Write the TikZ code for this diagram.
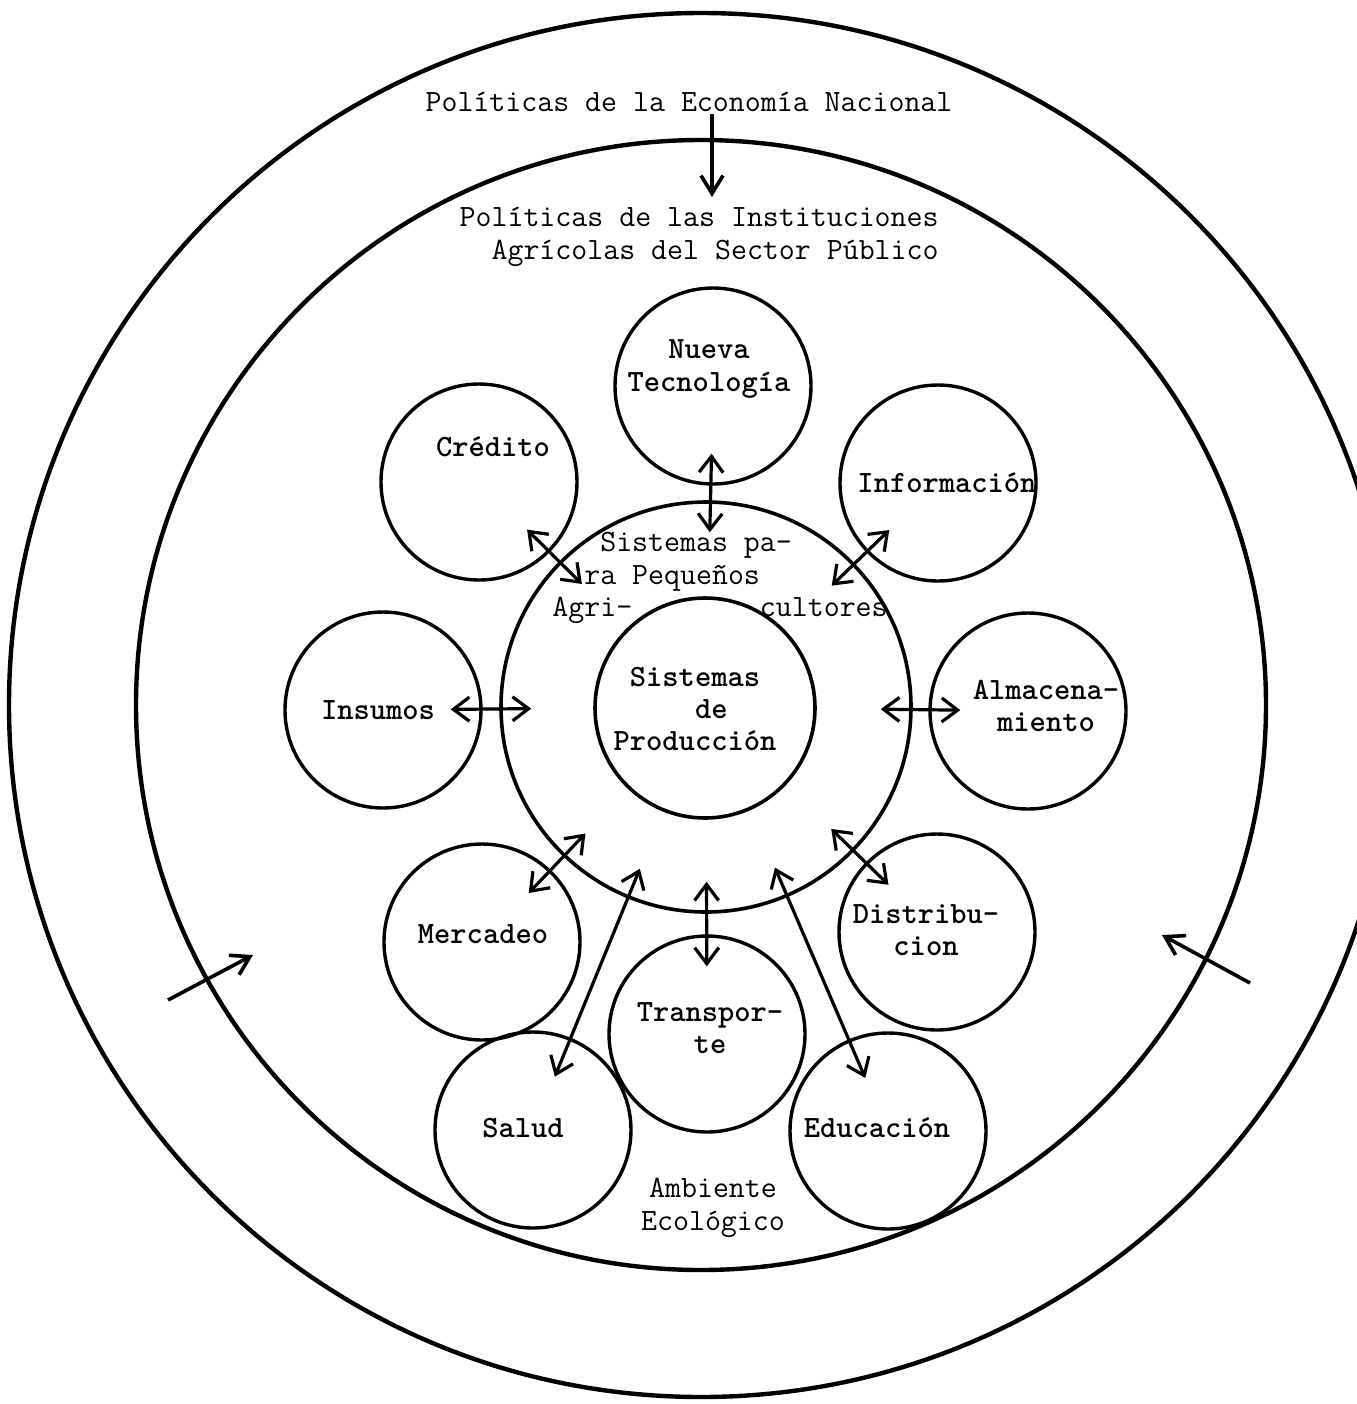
\documentclass[tikz,border=0pt]{standalone}
\usetikzlibrary{arrows.meta}

\tikzset{
  ring/.style={draw, circle, line width=2.2pt, inner sep=0pt},
  core/.style={draw, circle, line width=1.8pt, inner sep=0pt},
  orb/.style={draw, circle, line width=1.7pt, minimum size=98pt, inner sep=0pt},
  say/.style={font=\fontsize{15.5}{16.4}\selectfont\ttfamily, inner sep=1pt},
  tag/.style={font=\fontsize{15.5}{16.2}\selectfont\ttfamily\bfseries, align=center, inner sep=0pt},
  link/.style={line width=1.6pt, {Straight Barb[length=8pt,width=12pt]}-{Straight Barb[length=8pt,width=12pt]},
    shorten <=-16pt, shorten >=-16pt},
  push/.style={line width=1.8pt, -{Straight Barb[length=9pt,width=11pt]}},
}

\begin{document}
\begin{tikzpicture}[x=0.5pt,y=-0.5pt]
\useasboundingbox (0,0) rectangle (1356,1404);

% ---------------- rings ----------------
\node[ring, minimum size=692pt] (eco) at (701,705) {};
\node[ring, minimum size=565pt] (inst) at (701,705) {};
\node[core, minimum size=205pt] (peq) at (706,707) {};
\node[core, minimum size=110pt] (prod) at (705,708) {};

% ring texts
\node[say] (econT) at (689,102) {Políticas de la Economía Nacional};
\node[say, align=right, anchor=east] (instT) at (941,237)
  {Políticas de las Instituciones\\Agrícolas del Sector Público};
\node[say, align=left, anchor=west] (peqT) at (550,578)
  {\phantom{xxx}Sistemas pa-\\\phantom{xx}ra Pequeños\\Agri-~~~~~~~~cultores};
\node[tag] (prodT) at (695,709) {Sistemas\\\phantom{xx}de\\Producción};
\node[say, align=center] (ambT) at (713,1208) {Ambiente\\Ecológico};

% ---------------- satellites ----------------
\node[orb] (nueva) at (713,386) {};
\node[orb] (cred) at (479,482) {};
\node[orb] (info) at (938,483) {};
\node[orb] (ins) at (383,710) {};
\node[orb] (alm) at (1028,711) {};
\node[orb] (mer) at (482,942) {};
\node[orb] (dis) at (937,932) {};
\node[orb] (tra) at (707,1034) {};
\node[orb] (sal) at (533,1130) {};
\node[orb] (edu) at (888,1131) {};

\node[tag] (nuevaT) at (709,369) {Nueva\\Tecnología};
\node[tag] (credT) at (493,447) {Crédito};
\node[tag] (infoT) at (947,483) {Información};
\node[tag] (insT) at (378,710) {Insumos};
\node[tag] (almT) at (1046,706) {Almacena-\\miento};
\node[tag] (merT) at (483,934) {Mercadeo};
\node[tag] (disT) at (926,930) {Distribu-\\cion};
\node[tag] (traT) at (710,1028) {Transpor-\\te};
\node[tag] (salT) at (523,1128) {Salud};
\node[tag] (eduT) at (877,1128) {Educación};

% ---------------- arrows ----------------
\coordinate (topTip) at (712,197);
\draw[push] (econT.south -| topTip) -- (topTip);

\draw[link] (nueva) -- (peq);
\draw[link] (cred) -- (peq);
\draw[link] (info) -- (peq);
\draw[link] (ins) -- (peq);
\draw[link] (alm) -- (peq);
\draw[link] (mer) -- (peq);
\draw[link] (dis) -- (peq);
\draw[link] (tra) -- (peq);
\draw[link, shorten <=-21pt] (sal) -- (peq);
\draw[link, shorten <=-21pt] (edu) -- (peq);

% outside pushes
\coordinate (wTail) at (168,1000);
\coordinate (wTip) at (253,955);
\draw[push] (wTail) -- (wTip);
\coordinate (eTail) at (1250,983);
\coordinate (eTip) at (1162,935);
\draw[push] (eTail) -- (eTip);

\end{tikzpicture}
\end{document}
